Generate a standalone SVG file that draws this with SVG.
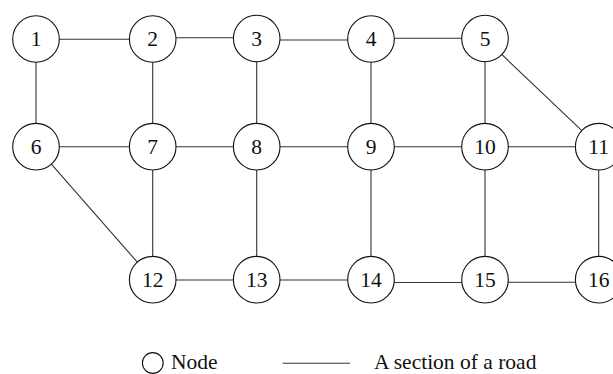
<svg xmlns="http://www.w3.org/2000/svg" width="613" height="374" viewBox="0 0 613 374">
<style>
.e{stroke:#333;stroke-width:1.1;fill:none}
.n circle{fill:#fff;stroke:#111;stroke-width:1.1}
.n text,.lg{font-family:"Liberation Serif","Times New Roman",serif;font-size:21.5px;fill:#111}
.n text{text-anchor:middle}
</style>
<rect width="613" height="374" fill="#fff"/>
<g id="connectors">
<line class="e" x1="36" y1="39.3" x2="152.7" y2="39.3"/>
<line class="e" x1="152.7" y1="37.7" x2="256.7" y2="37.7"/>
<line class="e" x1="256.7" y1="40" x2="371" y2="40"/>
<line class="e" x1="371" y1="38.3" x2="485" y2="38.3"/>
<line class="e" x1="36" y1="39" x2="36" y2="146.7"/>
<line class="e" x1="152.7" y1="39" x2="152.7" y2="146.7"/>
<line class="e" x1="256.7" y1="38.5" x2="256.7" y2="146.7"/>
<line class="e" x1="371" y1="39" x2="371" y2="146.7"/>
<line class="e" x1="485" y1="38.5" x2="485" y2="146.7"/>
<line class="e" x1="485" y1="38.5" x2="598.7" y2="146.7"/>
<line class="e" x1="36" y1="146.7" x2="152.7" y2="146.7"/>
<line class="e" x1="152.7" y1="146.7" x2="256.7" y2="146.7"/>
<line class="e" x1="256.7" y1="146.7" x2="371" y2="146.7"/>
<line class="e" x1="371" y1="146.7" x2="485" y2="146.7"/>
<line class="e" x1="485" y1="146.7" x2="598.7" y2="146.7"/>
<line class="e" x1="36" y1="146.7" x2="152.7" y2="279.7"/>
<line class="e" x1="152.7" y1="146.7" x2="152.7" y2="279.7"/>
<line class="e" x1="256.7" y1="146.7" x2="256.7" y2="279.7"/>
<line class="e" x1="371" y1="146.7" x2="371" y2="279.7"/>
<line class="e" x1="485" y1="146.7" x2="485" y2="279.7"/>
<line class="e" x1="598.7" y1="146.7" x2="598.7" y2="279.7"/>
<line class="e" x1="152.7" y1="280" x2="256.7" y2="280"/>
<line class="e" x1="256.7" y1="280" x2="371" y2="280"/>
<line class="e" x1="371" y1="282.5" x2="485" y2="282.5"/>
<line class="e" x1="485" y1="282.3" x2="598.7" y2="282.3"/>
</g>
<g id="n1" class="n"><circle cx="36" cy="39" r="23.3"/><text x="36" y="46">1</text></g>
<g id="n2" class="n"><circle cx="152.7" cy="39" r="23.3"/><text x="152.7" y="46">2</text></g>
<g id="n3" class="n"><circle cx="256.7" cy="38.5" r="23.3"/><text x="256.7" y="45.5">3</text></g>
<g id="n4" class="n"><circle cx="371" cy="39" r="23.3"/><text x="371" y="46">4</text></g>
<g id="n5" class="n"><circle cx="485" cy="38.5" r="23.3"/><text x="485" y="45.5">5</text></g>
<g id="n6" class="n"><circle cx="36" cy="146.7" r="23.3"/><text x="36" y="153.7">6</text></g>
<g id="n7" class="n"><circle cx="152.7" cy="146.7" r="23.3"/><text x="152.7" y="153.7">7</text></g>
<g id="n8" class="n"><circle cx="256.7" cy="146.7" r="23.3"/><text x="256.7" y="153.7">8</text></g>
<g id="n9" class="n"><circle cx="371" cy="146.7" r="23.3"/><text x="371" y="153.7">9</text></g>
<g id="n10" class="n"><circle cx="485" cy="146.7" r="23.3"/><text x="485" y="153.7">10</text></g>
<g id="n11" class="n"><circle cx="598.7" cy="146.7" r="23.3"/><text x="598.7" y="153.7">11</text></g>
<g id="n12" class="n"><circle cx="152.7" cy="279.7" r="23.3"/><text x="152.7" y="286.7">12</text></g>
<g id="n13" class="n"><circle cx="256.7" cy="279.7" r="23.3"/><text x="256.7" y="286.7">13</text></g>
<g id="n14" class="n"><circle cx="371" cy="279.7" r="23.3"/><text x="371" y="286.7">14</text></g>
<g id="n15" class="n"><circle cx="485" cy="279.7" r="23.3"/><text x="485" y="286.7">15</text></g>
<g id="n16" class="n"><circle cx="598.7" cy="279.7" r="23.3"/><text x="598.7" y="286.7">16</text></g>
<g id="legend">
<circle cx="152.8" cy="363" r="10.4" fill="#fff" stroke="#111" stroke-width="1.1"/>
<text class="lg" x="171" y="369.3">Node</text>
<line class="e" x1="282.7" y1="363.3" x2="350" y2="363.3"/>
<text class="lg" x="374" y="369.3">A section of a road</text>
</g>
</svg>
